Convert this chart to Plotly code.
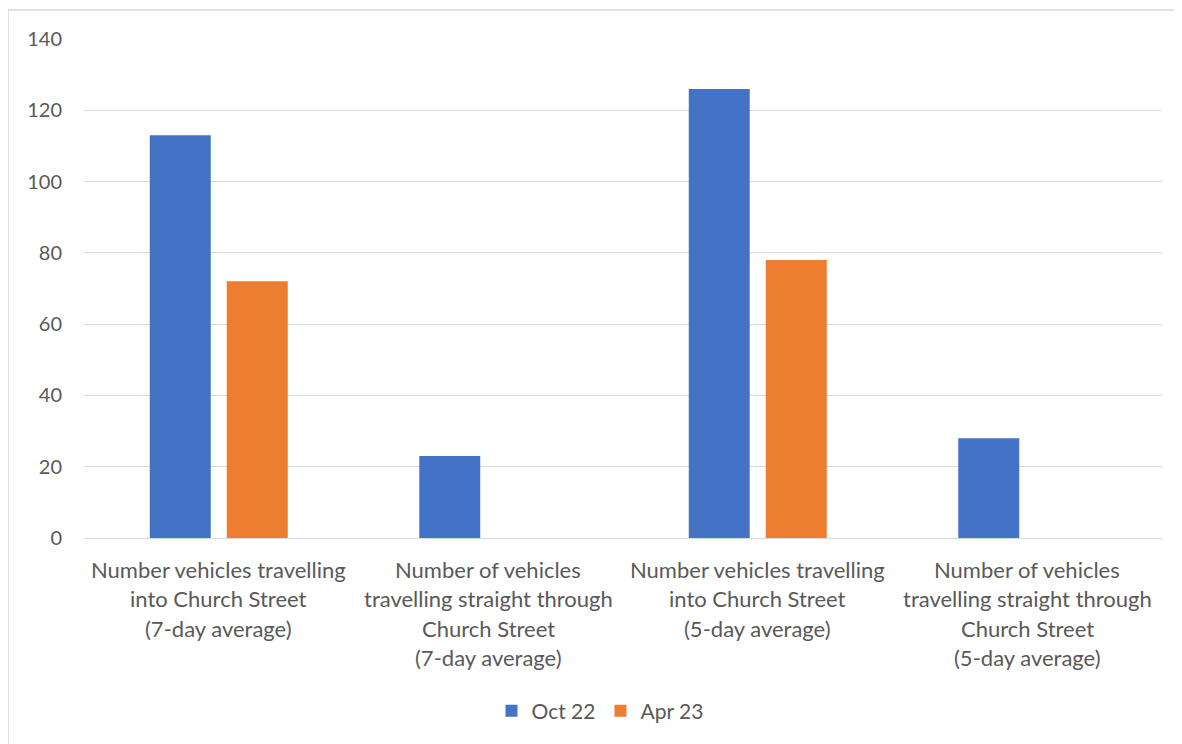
import plotly.graph_objects as go

categories = [
    "Number vehicles travelling<br>into Church Street<br>(7-day average)",
    "Number of vehicles<br>travelling straight through<br>Church Street<br>(7-day average)",
    "Number vehicles travelling<br>into Church Street<br>(5-day average)",
    "Number of vehicles<br>travelling straight through<br>Church Street<br>(5-day average)",
]
oct22 = [113, 23, 126, 28]
apr23 = [72, None, 78, None]
y_ticks = [0, 20, 40, 60, 80, 100, 120, 140]

FONT = "Lato"
TXT = "#595959"
GRID = "#d9d9d9"

# page has an 8px body margin; work in figure coordinates (page - 8)
OFF = 8
W, H = 1182 - OFF, 744 - OFF
L = 84 - OFF
T = 39 - OFF
plot_right = 1162 - OFF
plot_bottom = 538 - OFF
R = W - plot_right
B = H - plot_bottom
pw = plot_right - L
ph = plot_bottom - T

fig = go.Figure()
fig.add_trace(go.Bar(name="Oct 22", x=categories, y=oct22, marker=dict(color="#4472c4", line=dict(width=0))))
fig.add_trace(go.Bar(name="Apr 23", x=categories, y=apr23, marker=dict(color="#ed7d31", line=dict(width=0))))

# category labels, one annotation per line for Excel-like spacing
line_centers = [569, 598.5, 628, 657.5]
for c in categories:
    for i, part in enumerate(c.split("<br>")):
        fig.add_annotation(x=c, xref="x", y=(plot_bottom - (line_centers[i] - OFF)) / ph, yref="paper",
                           text=part, showarrow=False, xanchor="center", yanchor="middle",
                           font=dict(family=FONT, size=22, color=TXT))

# chart border
fig.add_shape(type="rect", xref="paper", yref="paper",
              x0=(8 - OFF - L) / pw, x1=(1220 - OFF - L) / pw,
              y0=(plot_bottom - 780) / ph, y1=(plot_bottom - (10 - OFF)) / ph,
              line=dict(color=GRID, width=1.5), fillcolor="rgba(0,0,0,0)", layer="below")

fig.update_layout(
    width=W, height=H,
    margin=dict(l=L, r=R, t=T, b=B),
    paper_bgcolor="white", plot_bgcolor="white",
    barmode="group", bargap=0.4286, bargroupgap=0.208,
    font=dict(family=FONT, size=20, color=TXT),
    legend=dict(orientation="h", x=(600 - OFF - L) / pw, xanchor="center",
                y=(plot_bottom - (711 - OFF)) / ph, yanchor="middle",
                font=dict(family=FONT, size=21, color=TXT), traceorder="normal"),
    xaxis=dict(showticklabels=False, showgrid=False, zeroline=False, showline=False, ticks=""),
    yaxis=dict(range=[0, 140], tickvals=y_ticks, showgrid=True, gridcolor=GRID, gridwidth=1,
               zeroline=True, zerolinecolor=GRID, zerolinewidth=1, showline=False, ticks="",
               ticklabelstandoff=21, tickfont=dict(family=FONT, size=20, color=TXT)),
)

fig.write_html("out.html")
